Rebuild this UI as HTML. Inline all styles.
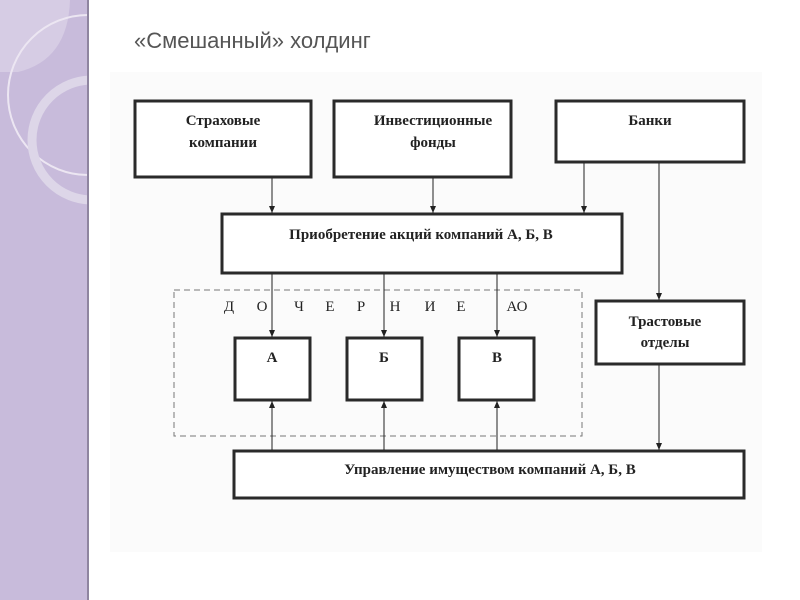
<!DOCTYPE html>
<html><head><meta charset="utf-8"><style>
body{margin:0;width:800px;height:600px;background:#fff;overflow:hidden;position:relative;font-family:"Liberation Serif",serif}
.t{position:absolute;font-family:"Liberation Sans",sans-serif;font-size:22px;color:#555;left:134px;top:28px}
</style></head><body>
<svg width="800" height="600" style="position:absolute;left:0;top:0">
<defs><clipPath id="c"><rect x="0" y="0" width="88" height="600"/></clipPath>
<marker id="a" markerWidth="8" markerHeight="8" refX="7" refY="4" orient="auto" markerUnits="userSpaceOnUse"><path d="M0,1 L7,4 L0,7z" fill="#222"/></marker>
</defs>
<rect x="0" y="0" width="88" height="600" fill="#c8bbdb"/>
<g clip-path="url(#c)">
<path d="M0,0 H70 Q68,60 18,72 H0z" fill="#d6cce4"/>
<circle cx="88" cy="95" r="80" fill="none" stroke="#ece6f2" stroke-width="2"/>
<circle cx="92" cy="140" r="60" fill="none" stroke="#ddd6e8" stroke-width="9"/>
</g>
<rect x="87" y="0" width="2" height="600" fill="#8f85a0"/>
<rect x="110" y="72" width="652" height="480" fill="#fbfbfb"/>
<g fill="#fff" stroke="#2a2a2a" stroke-width="3">
<rect x="135" y="101" width="176" height="76"/>
<rect x="334" y="101" width="177" height="76"/>
<rect x="556" y="101" width="188" height="61"/>
<rect x="222" y="214" width="400" height="59"/>
<rect x="235" y="338" width="75" height="62"/>
<rect x="347" y="338" width="75" height="62"/>
<rect x="459" y="338" width="75" height="62"/>
<rect x="596" y="301" width="148" height="63"/>
<rect x="234" y="451" width="510" height="47"/>
</g>
<rect x="174" y="290" width="408" height="146" fill="none" stroke="#777" stroke-width="1" stroke-dasharray="6,4"/>
<g stroke="#222" stroke-width="1">
<line x1="272" y1="178" x2="272" y2="213" marker-end="url(#a)"/>
<line x1="433" y1="178" x2="433" y2="213" marker-end="url(#a)"/>
<line x1="584" y1="163" x2="584" y2="213" marker-end="url(#a)"/>
<line x1="659" y1="163" x2="659" y2="300" marker-end="url(#a)"/>
<line x1="659" y1="365" x2="659" y2="450" marker-end="url(#a)"/>
<line x1="272" y1="274" x2="272" y2="337" marker-end="url(#a)"/>
<line x1="384" y1="274" x2="384" y2="337" marker-end="url(#a)"/>
<line x1="497" y1="274" x2="497" y2="337" marker-end="url(#a)"/>
<line x1="272" y1="450" x2="272" y2="401" marker-end="url(#a)"/>
<line x1="384" y1="450" x2="384" y2="401" marker-end="url(#a)"/>
<line x1="497" y1="450" x2="497" y2="401" marker-end="url(#a)"/>
</g>
<g font-family="Liberation Serif,serif" font-weight="bold" font-size="15" fill="#222" text-anchor="middle">
<text x="223" y="125">Страховые</text><text x="223" y="147">компании</text>
<text x="433" y="125">Инвестиционные</text><text x="433" y="147">фонды</text>
<text x="650" y="125">Банки</text>
<text x="421" y="239">Приобретение акций компаний А, Б, В</text>
<text x="272" y="362">А</text><text x="384" y="362">Б</text><text x="497" y="362">В</text>
<text x="665" y="326">Трастовые</text><text x="665" y="347">отделы</text>
<text x="490" y="474">Управление имуществом компаний А, Б, В</text>
</g>
<g font-family="Liberation Serif,serif" font-size="15" fill="#222" text-anchor="middle">
<text x="229" y="311">Д</text><text x="262" y="311">О</text><text x="299" y="311">Ч</text><text x="330" y="311">Е</text><text x="361" y="311">Р</text><text x="395" y="311">Н</text><text x="430" y="311">И</text><text x="461" y="311">Е</text><text x="517" y="311">АО</text>
</g>
</svg>
<div class="t">«Смешанный» холдинг</div>
</body></html>
